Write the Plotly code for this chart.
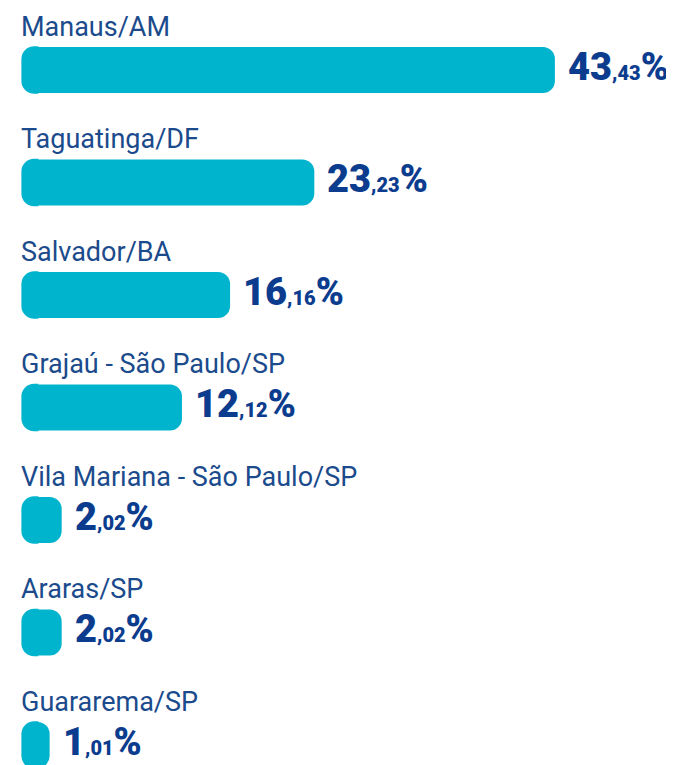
import plotly.graph_objects as go

categories = [
    "Manaus/AM",
    "Taguatinga/DF",
    "Salvador/BA",
    "Grajaú - São Paulo/SP",
    "Vila Mariana - São Paulo/SP",
    "Araras/SP",
    "Guararema/SP",
]
values = [43.43, 23.23, 16.16, 12.12, 2.02, 2.02, 1.01]

BAR_COLOR = "#00B4CD"
LABEL_COLOR = "#1B4B8C"
VALUE_COLOR = "#0B3C8E"
CAP = 1.3          # rounded left cap length (style, in axis units)
RADIUS = 12


def fmt(v):
    whole, dec = f"{v:.2f}".split(".")
    return f"{whole}<span style='font-size:20px'>,{dec}</span>%"


fig = go.Figure()
# left rounded cap (drawn first, thin same-colour outline hides the seam)
fig.add_trace(go.Bar(
    x=[-CAP] * len(categories), y=categories, orientation="h",
    marker=dict(color=BAR_COLOR, line=dict(width=1.5, color=BAR_COLOR)),
    hoverinfo="skip",
))
# main bars (rounded far end)
fig.add_trace(go.Bar(
    x=values, y=categories, orientation="h",
    marker=dict(color=BAR_COLOR, line=dict(width=0)),
    hoverinfo="skip",
))

annotations = []
for c, v in zip(categories, values):
    annotations.append(dict(
        x=11 / 674, xref="paper", y=c, yref="y",
        text=c, showarrow=False, xanchor="left", yanchor="middle",
        yshift=43,
        font=dict(family="Roboto, sans-serif", size=27, color=LABEL_COLOR),
    ))
    annotations.append(dict(
        x=v, xref="x", y=c, yref="y",
        text=fmt(v), showarrow=False, xanchor="left", yanchor="middle",
        xshift=11, yshift=3,
        font=dict(family="Roboto, sans-serif", size=38, color=VALUE_COLOR, weight=900),
    ))

fig.update_layout(
    width=674,
    height=765,
    margin=dict(l=0, r=0, t=0, b=0),
    paper_bgcolor="white",
    plot_bgcolor="white",
    barmode="overlay",
    bargap=0.591,
    barcornerradius=RADIUS,
    showlegend=False,
    annotations=annotations,
    xaxis=dict(range=[-2.486, 54.10], visible=False, fixedrange=True),
    yaxis=dict(
        range=[6.249, -0.551], visible=False, fixedrange=True,
        categoryorder="array", categoryarray=categories,
    ),
)

fig.write_html("out.html")
